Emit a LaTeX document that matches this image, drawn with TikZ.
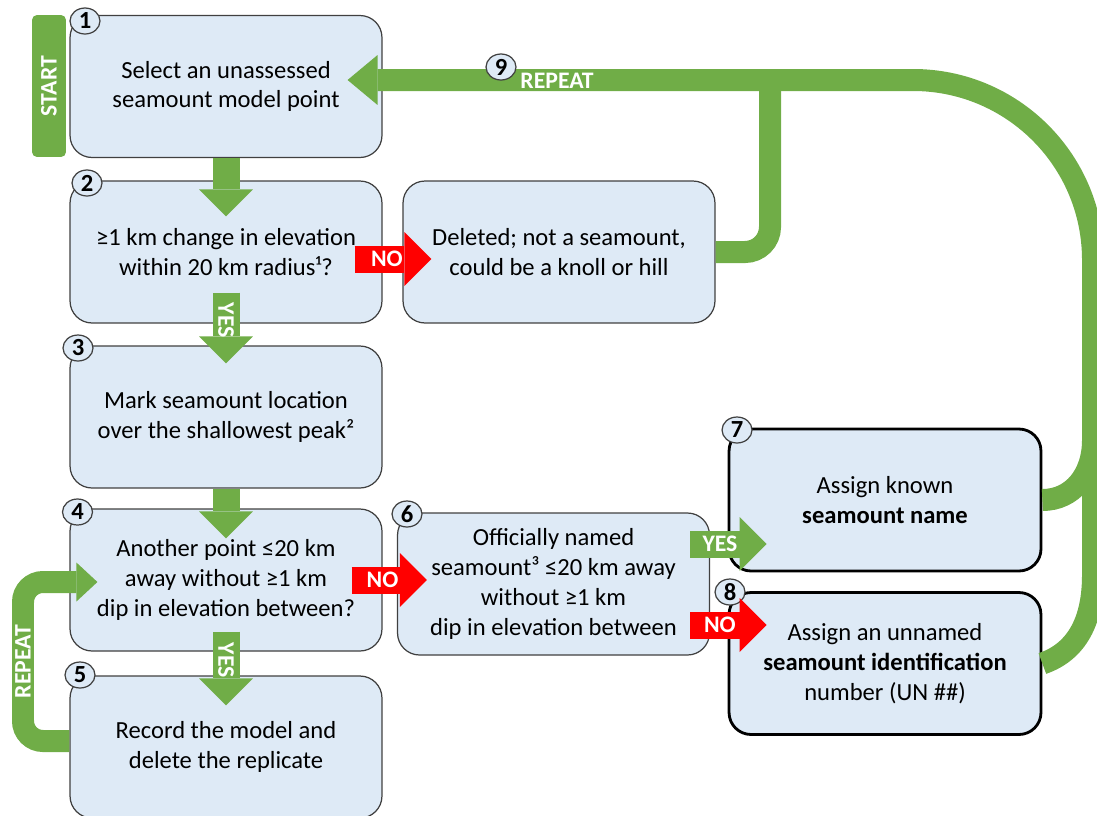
\documentclass[tikz,border=0pt]{standalone}
\usepackage{fontspec}
\setmainfont{Carlito}
\usetikzlibrary{arrows.meta,calc,shapes.geometric}
\definecolor{boxfill}{RGB}{222,234,246}
\definecolor{boxline}{RGB}{64,64,64}
\definecolor{leaf}{RGB}{112,173,71}
\definecolor{stopred}{RGB}{255,0,0}
\newcommand\boxfont{\fontsize{14}{17}\selectfont}
\newcommand\tagfont{\fontsize{13.5}{16}\selectfont\bfseries}
\tikzset{
    stepbox/.style ={
        shape=rectangle,
        rounded corners=0.44cm,
        draw=boxline,
        fill=boxfill,
        line width=0.7pt,
        minimum width=6.24cm,
        minimum height=2.84cm,
        align=center,
        font=\boxfont
    },
    endbox/.style ={
        stepbox,
        draw=black,
        line width=1.6pt
    },
    num/.style ={
        shape=ellipse,
        draw=boxline,
        fill=boxfill,
        line width=0.7pt,
        minimum width=0.6cm,
        minimum height=0.52cm,
        inner sep=0pt,
        font=\fontsize{14}{14}\selectfont\bfseries
    },
    okarrow/.style ={
        draw=leaf,
        line width=0.54cm,
        -{Triangle[length=0.54cm,width=1.08cm,line width=0pt]}
    },
    noarrow/.style ={
        okarrow,
        draw=stopred
    },
    repeatband/.style ={
        draw=leaf,
        line width=0.44cm
    },
    lbl/.style ={
        text=white,
        font=\tagfont,
        inner sep=0pt
    }
}

\begin{document}
\begin{tikzpicture}[x=0.02cm,y=-0.02cm]
    \useasboundingbox (0,0) rectangle (1097,815);
    % start tag
    \node[fill=leaf,rounded corners=0.1cm,minimum width=2.84cm,minimum height=0.68cm,
          rotate=90,text=white,font=\tagfont] (start) at (49,86) {START};
    % steps
    \node[stepbox] (b1) at (226,86.5) {Select an unassessed\\seamount model point};
    \node[stepbox] (b2) at (226,252) {≥1 km change in elevation\\within 20 km radius¹?};
    \node[stepbox] (del) at (559,252) {Deleted; not a seamount,\\could be a knoll or hill};
    \node[stepbox] (b3) at (226,417) {Mark seamount location\\over the shallowest peak²};
    \node[stepbox] (b4) at (226,580) {Another point ≤20 km\\away without ≥1 km\\dip in elevation between?};
    \node[stepbox] (b5) at (226,747) {Record the model and\\delete the replicate};
    \node[stepbox] (b6) at (553.5,584) {Officially named\\seamount³ ≤20 km away\\without ≥1 km\\dip in elevation between};
    \node[endbox] (b7) at (885,500) {Assign known\\\textbf{seamount name}};
    \node[endbox] (b8) at (885,663.5) {Assign an unnamed\\\textbf{seamount identification}\\number (UN \#\#)};
    % repeat bands
    \coordinate (lc) at (23,661.5);
    \coordinate (dc) at (770,80);
    \coordinate (joint7) at (1093,440);
    \coordinate (joint8) at (1093,575);
    \coordinate (corner) at (1093,80);
    \draw[repeatband,rounded corners=0.4cm,-{Triangle[length=0.42cm,width=0.78cm,line width=0pt]}]
        ($(b5.west)+(0,-6)$) -| (lc) node[lbl,rotate=90] {REPEAT} |- ($(b4.west)+(28,2)$);
    \draw[repeatband,rounded corners=0.5cm] (del.east) -| (dc);
    \draw[repeatband] (b7.east) .. controls ($(b7.east)+(30,0)$) and ($(joint7)+(0,35)$) .. (joint7);
    \draw[repeatband] (b8.east) .. controls ($(b8.east)+(35,-12)$) and ($(joint8)+(0,45)$) .. (joint8);
    \draw[repeatband,rounded corners=3.6cm,-{Triangle[length=0.6cm,width=1.0cm,line width=0pt]}]
        ($(joint8)+(0,40)$) -- (corner) -- ($(b1.east)+(-35,-6.5)$);
    \node[lbl] at (557,81) {REPEAT};
    % numbers
    \node[num] (n1) at (85,21) {1};
    \node[num] (n2) at (87,183) {2};
    \node[num] (n3) at (78,348) {3};
    \node[num] (n4) at (77.5,512) {4};
    \node[num] (n5) at (80,675) {5};
    \node[num] (n6) at (407,514) {6};
    \node[num] (n7) at (737,430) {7};
    \node[num] (n8) at (730,592) {8};
    \node[num] (n9) at (501,67) {9};
    % flow arrows
    \draw[okarrow] (b1.south) -- ($(b2.north)+(0,36)$);
    \draw[okarrow] ($(b2.south)+(0,-31)$) -- node[lbl,rotate=-90,pos=0.39] {YES} ($(b3.north)+(0,18)$);
    \draw[okarrow] (b3.south) -- ($(b4.north)+(0,30)$);
    \draw[okarrow] ($(b4.south)+(0,-20)$) -- node[lbl,rotate=-90,pos=0.39] {YES} ($(b5.north)+(0,30)$);
    \draw[noarrow] ($(b2.east)+(-28,7)$) -- node[lbl,pos=0.42] {NO} ($(del.west)+(29,7)$);
    \draw[noarrow] ($(b4.east)+(-31,0)$) -- node[lbl,pos=0.41] {NO} ($(b6.west)+(30,-4)$);
    \draw[okarrow] ($(b6.east)+(-20,-40)$) -- node[lbl,pos=0.39] {YES} ($(b7.west)+(39,44)$);
    \draw[noarrow] ($(b6.east)+(-20,41)$) -- node[lbl,pos=0.39] {NO} ($(b8.west)+(39,-38.5)$);
\end{tikzpicture}
\end{document}
